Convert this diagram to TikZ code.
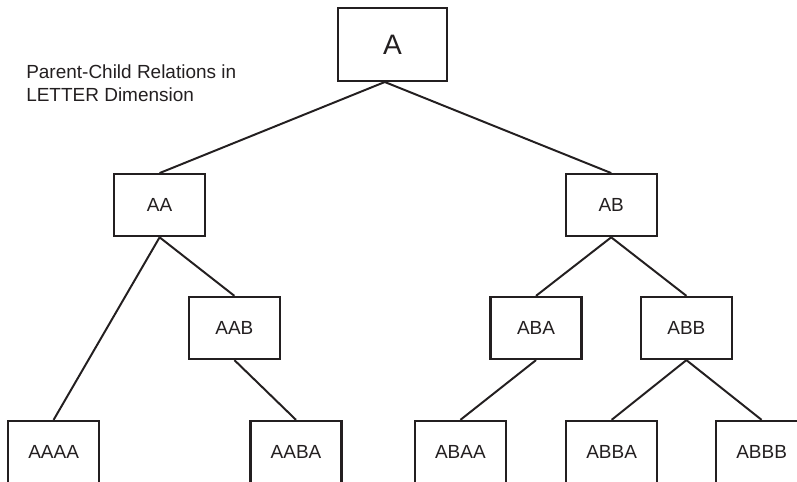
\documentclass[tikz,border=0pt]{standalone}
\usepackage{fontspec}
\setmainfont{Liberation Sans}
\usetikzlibrary{positioning}
\definecolor{LineGray}{RGB}{35,31,32}

\begin{document}
\begin{tikzpicture}[every node/.style={font=\fontsize{13.5}{16.4}\selectfont, align=center},
    letterbox/.style={draw=LineGray, line width=1.6pt, minimum width=2.275cm, minimum height=1.55cm, text=LineGray},
    rootbox/.style={letterbox, minimum width=2.725cm, minimum height=1.825cm, font=\fontsize{20}{24}\selectfont},
    link/.style={line width=1.4pt, LineGray}]
  \useasboundingbox (0,0) rectangle (19.925,12.05);
  \clip (0,0) rectangle (19.925,12.05);
  \node[anchor=west, align=left, inner sep=0pt, text=LineGray] (title) at (0.65,9.96) {Parent-Child Relations in\\LETTER Dimension};
  \node[rootbox] (A) at (9.81,10.94) {A};
  \node[letterbox] (AA) at (3.99,6.92) {AA};
  \node[letterbox] (AB) at (15.28,6.92) {AB};
  \node[letterbox] (AAB) at (5.86,3.85) {AAB};
  \node[letterbox] (ABA) at (13.4,3.85) {ABA};
  \node[letterbox] (ABB) at (17.16,3.85) {ABB};
  \node[letterbox] (AAAA) at (1.34,0.75) {AAAA};
  \node[letterbox] (AABA) at (7.4,0.75) {AABA};
  \node[letterbox] (ABAA) at (11.51,0.75) {ABAA};
  \node[letterbox] (ABBA) at (15.29,0.75) {ABBA};
  \node[letterbox] (ABBB) at (19.04,0.75) {ABBB};
  \draw[link] ([xshift=-0.19cm]A.south) -- (AA.north);
  \draw[link] ([xshift=-0.19cm]A.south) -- (AB.north);
  \draw[link] (AA.south) -- (AAAA.north);
  \draw[link] (AA.south) -- (AAB.north);
  \draw[link] (AAB.south) -- (AABA.north);
  \draw[link] (AB.south) -- (ABA.north);
  \draw[link] (AB.south) -- (ABB.north);
  \draw[link] (ABA.south) -- (ABAA.north);
  \draw[link] (ABB.south) -- (ABBA.north);
  \draw[link] (ABB.south) -- (ABBB.north);
\end{tikzpicture}
\end{document}
